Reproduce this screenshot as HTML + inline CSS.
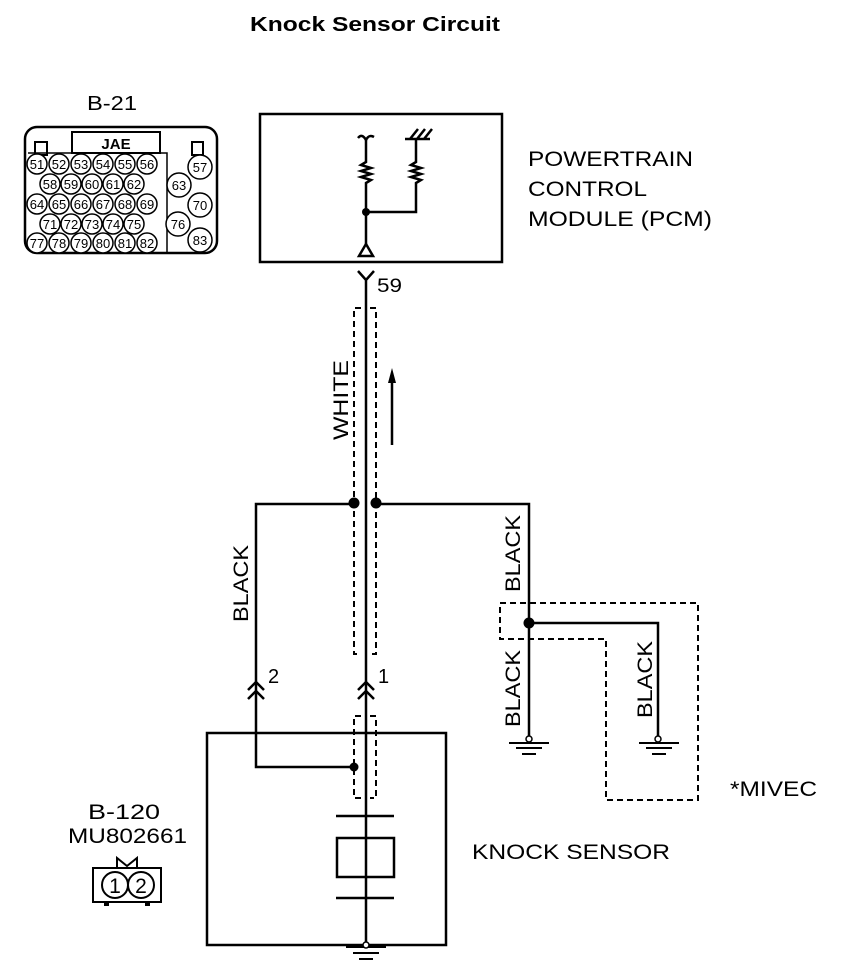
<!DOCTYPE html>
<html><head><meta charset="utf-8"><style>
html,body{margin:0;padding:0;background:#fff}
svg{display:block}
text{font-family:"Liberation Sans",Arial,sans-serif;fill:#000}
</style></head><body>
<svg width="864" height="978" viewBox="0 0 864 978" xmlns="http://www.w3.org/2000/svg">
<text x="250" y="31" font-size="20" font-weight="bold" textLength="250" lengthAdjust="spacingAndGlyphs">Knock Sensor Circuit</text>

<!-- B-21 connector -->
<text x="87" y="110" font-size="20" textLength="50" lengthAdjust="spacingAndGlyphs">B-21</text>
<g fill="none" stroke="#000">
<rect x="25" y="127" width="192" height="126" rx="12" stroke-width="2.5"/>
<rect x="72" y="132" width="88" height="21" stroke-width="2"/>
<rect x="35" y="142" width="12" height="13" stroke-width="2"/>
<rect x="192" y="142" width="11" height="13" stroke-width="2"/>
<path d="M28 153 H167 V253" stroke-width="1.5"/>
</g>
<text x="116" y="149" font-size="15" font-weight="bold" text-anchor="middle">JAE</text>
<g stroke="#000" stroke-width="1.5" fill="#fff">
<circle cx="37" cy="164" r="10"/><circle cx="59" cy="164" r="10"/><circle cx="81" cy="164" r="10"/><circle cx="103" cy="164" r="10"/><circle cx="125" cy="164" r="10"/><circle cx="147" cy="164" r="10"/>
<circle cx="50" cy="184" r="10"/><circle cx="71" cy="184" r="10"/><circle cx="92" cy="184" r="10"/><circle cx="113" cy="184" r="10"/><circle cx="134" cy="184" r="10"/>
<circle cx="37" cy="204" r="10"/><circle cx="59" cy="204" r="10"/><circle cx="81" cy="204" r="10"/><circle cx="103" cy="204" r="10"/><circle cx="125" cy="204" r="10"/><circle cx="147" cy="204" r="10"/>
<circle cx="50" cy="224" r="10"/><circle cx="71" cy="224" r="10"/><circle cx="92" cy="224" r="10"/><circle cx="113" cy="224" r="10"/><circle cx="134" cy="224" r="10"/>
<circle cx="37" cy="243" r="10"/><circle cx="59" cy="243" r="10"/><circle cx="81" cy="243" r="10"/><circle cx="103" cy="243" r="10"/><circle cx="125" cy="243" r="10"/><circle cx="147" cy="243" r="10"/>
<circle cx="200" cy="167" r="12"/><circle cx="179" cy="185" r="12"/><circle cx="200" cy="205" r="12"/><circle cx="178" cy="224" r="12"/><circle cx="200" cy="240" r="12"/>
</g>
<g font-size="13" text-anchor="middle">
<text x="37" y="169">51</text><text x="59" y="169">52</text><text x="81" y="169">53</text><text x="103" y="169">54</text><text x="125" y="169">55</text><text x="147" y="169">56</text>
<text x="50" y="189">58</text><text x="71" y="189">59</text><text x="92" y="189">60</text><text x="113" y="189">61</text><text x="134" y="189">62</text>
<text x="37" y="209">64</text><text x="59" y="209">65</text><text x="81" y="209">66</text><text x="103" y="209">67</text><text x="125" y="209">68</text><text x="147" y="209">69</text>
<text x="50" y="229">71</text><text x="71" y="229">72</text><text x="92" y="229">73</text><text x="113" y="229">74</text><text x="134" y="229">75</text>
<text x="37" y="248">77</text><text x="59" y="248">78</text><text x="81" y="248">79</text><text x="103" y="248">80</text><text x="125" y="248">81</text><text x="147" y="248">82</text>
<text x="200" y="172">57</text><text x="179" y="190">63</text><text x="200" y="210">70</text><text x="178" y="229">76</text><text x="200" y="245">83</text>
</g>

<!-- PCM -->
<rect x="260" y="114" width="242" height="148" fill="none" stroke="#000" stroke-width="2.5"/>
<text x="528" y="166" font-size="21" textLength="165" lengthAdjust="spacingAndGlyphs">POWERTRAIN</text>
<text x="528" y="196" font-size="21" textLength="119" lengthAdjust="spacingAndGlyphs">CONTROL</text>
<text x="528" y="226" font-size="21" textLength="184" lengthAdjust="spacingAndGlyphs">MODULE (PCM)</text>
<g fill="none" stroke="#000" stroke-width="2.5">
<path d="M358 138 Q362 133 366 140 Q369 134 374 137"/>
<path d="M366 140 V162 l-5 3 l10 3 l-10 3 l10 3 l-10 3 l10 3 l-5 3 V246"/>
<path d="M416 139 V162 l-5 3 l10 3 l-10 3 l10 3 l-10 3 l10 3 l-5 3 V212 H366"/>
<path d="M405 139 H430 M410 139 l8 -10 M417 139 l8 -10 M424 139 l8 -10"/>
<path d="M359 256 L366 244 L373 256 Z"/>
<path d="M358 271 L366 280 L374 271 M366 280 V945"/>
</g>
<circle cx="366" cy="212" r="4"/>
<text x="377" y="292" font-size="19" textLength="25" lengthAdjust="spacingAndGlyphs">59</text>

<g fill="none" stroke="#000" stroke-width="2" stroke-dasharray="6,4">
<path d="M361 308 H354 V654 H361 M370 308 H376 V654 H370"/>
<path d="M361 716 H354 V798 H361 M370 716 H376 V798 H370"/>
<path d="M500 603 H698 V800 H606 V639 H500 Z"/>
</g>
<text transform="translate(348,440) rotate(-90)" font-size="21" textLength="80" lengthAdjust="spacingAndGlyphs">WHITE</text>
<path d="M392 445 V378" stroke="#000" stroke-width="2.5"/>
<path d="M388 383 L392 368 L396 383 Z"/>

<g fill="none" stroke="#000" stroke-width="2.5">
<path d="M354 504 H256 V767 H354"/>
<path d="M376 504 H529 V740"/>
<path d="M529 623 H658 V740"/>
<path d="M248 690 L256 682 L264 690 M248 699 L256 691 L264 699"/>
<path d="M358 690 L366 682 L374 690 M358 699 L366 691 L374 699"/>
</g>
<circle cx="354" cy="503" r="5.5"/><circle cx="376" cy="503" r="5.5"/>
<circle cx="529" cy="623" r="5.5"/><circle cx="354" cy="767" r="4.5"/>
<text transform="translate(248,622) rotate(-90)" font-size="21" textLength="77" lengthAdjust="spacingAndGlyphs">BLACK</text>
<text transform="translate(520,592) rotate(-90)" font-size="21" textLength="77" lengthAdjust="spacingAndGlyphs">BLACK</text>
<text transform="translate(520,727) rotate(-90)" font-size="21" textLength="77" lengthAdjust="spacingAndGlyphs">BLACK</text>
<text transform="translate(652,718) rotate(-90)" font-size="21" textLength="77" lengthAdjust="spacingAndGlyphs">BLACK</text>
<text x="268" y="683" font-size="20">2</text>
<text x="378" y="683" font-size="20">1</text>
<text x="730" y="796" font-size="21" textLength="87" lengthAdjust="spacingAndGlyphs">*MIVEC</text>

<g fill="none" stroke="#000" stroke-width="2">
<path d="M509 743 H549 M516 748 H542 M522 754 H536"/>
<path d="M639 743 H679 M646 748 H672 M652 754 H666"/>
<path d="M346 947 H386 M353 953 H379 M359 959 H373"/>
</g>
<circle cx="529" cy="739" r="3" fill="#fff" stroke="#000" stroke-width="1.5"/>
<circle cx="658" cy="739" r="3" fill="#fff" stroke="#000" stroke-width="1.5"/>

<g fill="none" stroke="#000" stroke-width="2.5">
<rect x="207" y="733" width="239" height="212"/>
<path d="M336 816 H394 M336 898 H394"/>
<rect x="337" y="838" width="57" height="39"/>
</g>
<circle cx="366" cy="945" r="3" fill="#fff" stroke="#000" stroke-width="1.5"/>
<text x="472" y="859" font-size="21" textLength="198" lengthAdjust="spacingAndGlyphs">KNOCK SENSOR</text>

<text x="88" y="819" font-size="21" textLength="72" lengthAdjust="spacingAndGlyphs">B-120</text>
<text x="68" y="843" font-size="21" textLength="119" lengthAdjust="spacingAndGlyphs">MU802661</text>
<g fill="none" stroke="#000" stroke-width="2">
<path d="M117 868 V858 L127 866 L137 858 V868"/>
<rect x="93" y="868" width="68" height="34"/>
<circle cx="115" cy="885" r="13"/><circle cx="141" cy="885" r="13"/>
</g>
<rect x="104" y="902" width="5" height="4"/><rect x="145" y="902" width="5" height="4"/>
<text x="115" y="893" font-size="21" text-anchor="middle">1</text>
<text x="141" y="893" font-size="21" text-anchor="middle">2</text>
</svg>
</body></html>
